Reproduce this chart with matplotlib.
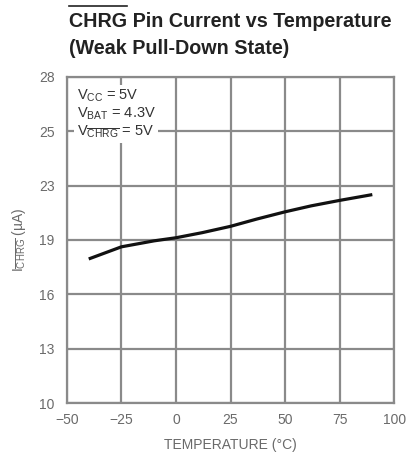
import matplotlib
matplotlib.use("Agg")
import matplotlib.pyplot as plt

# values
temp_c = [-40, -25, -10, 0, 12, 25, 37, 50, 62, 75, 90]
i_chrg_ua = [17.95, 18.62, 18.95, 19.12, 19.4, 19.75, 20.15, 20.55, 20.88, 21.18, 21.5]

x_ticks = [-50, -25, 0, 25, 50, 75, 100]
x_tick_labels = ["\u221250", "\u221225", "0", "25", "50", "75", "100"]
y_ticks = [10, 13, 16, 19, 22, 25, 28]
y_tick_labels = ["10", "13", "16", "19", "23", "25", "28"]

plt.rcParams["font.family"] = ["Liberation Sans Narrow", "Liberation Sans", "DejaVu Sans"]
plt.rcParams["mathtext.fontset"] = "custom"
plt.rcParams["mathtext.rm"] = "Liberation Sans"
plt.rcParams["mathtext.it"] = "Liberation Sans"
plt.rcParams["mathtext.bf"] = "Liberation Sans:bold"

grey = "#6a6a6a"
grid_grey = "#8a8a8a"

fig = plt.figure(figsize=(4.08, 4.57), dpi=100)
ax = fig.add_axes([0.164, 0.118, 0.802, 0.714])

ax.plot(temp_c, i_chrg_ua, color="#111111", lw=2.3, solid_capstyle="butt", zorder=3)

ax.set_xlim(-50, 100)
ax.set_ylim(10, 28)
ax.set_xticks(x_ticks)
ax.set_xticklabels(x_tick_labels)
ax.set_yticks(y_ticks)
ax.set_yticklabels(y_tick_labels)
ax.tick_params(length=0, labelsize=10, colors=grey)
ax.tick_params(axis="x", pad=7)
ax.tick_params(axis="y", pad=9)
ax.grid(True, color=grid_grey, lw=1.6)
ax.set_axisbelow(True)
for s in ax.spines.values():
    s.set_color(grid_grey)
    s.set_linewidth(1.6)

ax.set_xlabel("TEMPERATURE (°C)", fontsize=10, color=grey, labelpad=8)
ax.set_ylabel(r"I$_{\overline{\mathrm{CHRG}}}$ (µA)", fontsize=10, color=grey, labelpad=8)

ax.text(-45.5, 27.4,
        "V$_{\\mathrm{CC}}$ = 5V\nV$_{\\mathrm{BAT}}$ = 4.3V\nV$_{\\overline{\\mathrm{CHRG}}}$ = 5V",
        fontsize=10.5, color="#333333", va="top", ha="left", linespacing=1.12,
        bbox=dict(facecolor="white", edgecolor="none", pad=2), zorder=4)

title_kw = dict(fontsize=14.2, fontweight="bold", color="#222222", va="top", ha="left")
fig.text(0.17, 0.974, "CHRG Pin Current vs Temperature", **title_kw)
fig.text(0.17, 0.914, "(Weak Pull-Down State)", **title_kw)

# overline over CHRG, sized from the rendered word
fig.canvas.draw()
probe = fig.text(0.17, 0.974, "CHRG", **title_kw)
bb = probe.get_window_extent(fig.canvas.get_renderer()).transformed(fig.transFigure.inverted())
probe.remove()
fig.add_artist(plt.Line2D([bb.x0, bb.x1], [0.987, 0.987], color="#222222", lw=1.2,
                          transform=fig.transFigure))

fig.savefig("out.png", dpi=100)
